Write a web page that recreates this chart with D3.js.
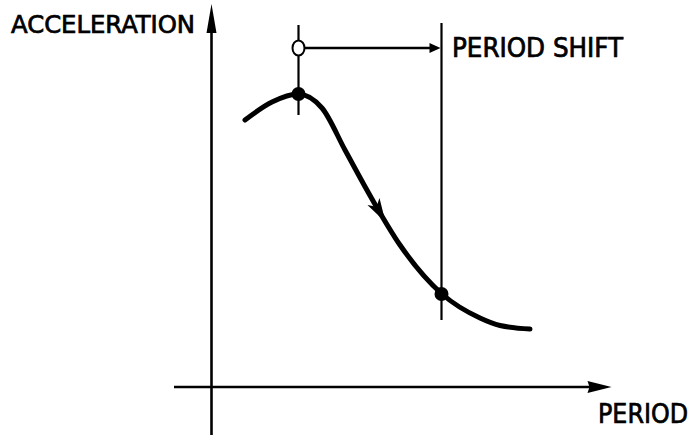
<!DOCTYPE html>
<html>
<head>
<meta charset="utf-8">
<script src="https://cdn.jsdelivr.net/npm/d3@7"></script>
<style>
  body { margin: 0; background: #fff; }
  svg text { font-family: "DejaVu Sans Condensed", "Liberation Sans Narrow", sans-serif; fill: #000; stroke: #000; stroke-width: 0.7px; }
</style>
</head>
<body>
<script>
// curve (period, acceleration in arbitrary units)
let periods = [0.335, 0.605, 0.865, 1.105, 1.335, 1.605, 1.885, 2.305, 2.685, 2.885, 3.185]
let accels  = [2.67, 2.85, 2.93, 2.79, 2.37, 1.88, 1.42, 0.93, 0.69, 0.615, 0.58]
let shiftFrom = 0.87   // period before shift
let shiftTo = 2.30     // period after shift
let markerY = [2.93, 0.93]
let arrowAt = 1.70     // where the direction arrow sits on the curve
let labels = ["ACCELERATION", "PERIOD SHIFT", "PERIOD"]

let W = 690, H = 437
let x = d3.scaleLinear().domain([0, 4]).range([211.5, 611.5])
let y = d3.scaleLinear().domain([0, 3]).range([387, 87])

let svg = d3.select("body").append("svg").attr("width", W).attr("height", H)

// axes
svg.append("line").attr("x1", x(-0.375)).attr("x2", x(3.8)).attr("y1", y(0)).attr("y2", y(0))
  .attr("stroke", "#000").attr("stroke-width", 2.6)
svg.append("path")
  .attr("d", `M${x(4)},${y(0)} L${x(3.76)},${y(0)-6} L${x(3.78)},${y(0)} L${x(3.76)},${y(0)+6} Z`)
  .attr("fill", "#000")
svg.append("line").attr("x1", x(0)).attr("x2", x(0)).attr("y1", y(-0.48)).attr("y2", y(3.6))
  .attr("stroke", "#000").attr("stroke-width", 2.6)
svg.append("path")
  .attr("d", `M${x(0)},${y(3.83)} L${x(0)-5},${y(3.54)} L${x(0)+5},${y(3.54)} Z`)
  .attr("fill", "#000")

// vertical marker lines
svg.append("line").attr("x1", x(shiftFrom)).attr("x2", x(shiftFrom)).attr("y1", y(3.62)).attr("y2", y(2.72))
  .attr("stroke", "#000").attr("stroke-width", 2.2)
svg.append("line").attr("x1", x(shiftTo)).attr("x2", x(shiftTo)).attr("y1", y(3.64)).attr("y2", y(0.67))
  .attr("stroke", "#000").attr("stroke-width", 2.2)

// shift arrow
let ay = y(3.39)
svg.append("line").attr("x1", x(shiftFrom) + 6).attr("x2", x(shiftTo) - 8).attr("y1", ay).attr("y2", ay)
  .attr("stroke", "#000").attr("stroke-width", 2.6)
svg.append("path")
  .attr("d", `M${x(shiftTo)-1},${ay} L${x(shiftTo)-12},${ay-5} L${x(shiftTo)-12},${ay+5} Z`)
  .attr("fill", "#000")
svg.append("ellipse").attr("cx", x(shiftFrom)).attr("cy", ay).attr("rx", 6).attr("ry", 7.5)
  .attr("fill", "#fff").attr("stroke", "#000").attr("stroke-width", 2)

// curve
let pts = periods.map((p, i) => [x(p), y(accels[i])])
let curve = svg.append("path")
  .attr("d", d3.line().curve(d3.curveMonotoneX)(pts))
  .attr("fill", "none").attr("stroke", "#000").attr("stroke-width", 5).attr("stroke-linecap", "round")

// direction arrow on the curve
let node = curve.node(), len = node.getTotalLength()
let lo = 0, hi = len
for (let k = 0; k < 40; k++) {
  let mid = (lo + hi) / 2
  if (node.getPointAtLength(mid).x < x(arrowAt)) lo = mid; else hi = mid
}
let tip = node.getPointAtLength(lo + 8), back = node.getPointAtLength(lo - 14)
let ang = Math.atan2(tip.y - back.y, tip.x - back.x) * 180 / Math.PI
svg.append("path")
  .attr("d", "M0,0 L-24,-7 L-18,0 L-24,7 Z")
  .attr("transform", `translate(${tip.x},${tip.y}) rotate(${ang})`)
  .attr("fill", "#000")

// points
svg.selectAll("circle.pt").data([shiftFrom, shiftTo]).join("circle").attr("class", "pt")
  .attr("cx", d => x(d)).attr("cy", (d, i) => y(markerY[i])).attr("r", 7).attr("fill", "#000")

// labels
svg.append("text").attr("x", 11).attr("y", 33).attr("font-size", 25)
  .attr("textLength", 184).attr("lengthAdjust", "spacingAndGlyphs").text(labels[0])
svg.append("text").attr("x", 452).attr("y", 57).attr("font-size", 26)
  .attr("textLength", 171).attr("lengthAdjust", "spacingAndGlyphs").text(labels[1])
svg.append("text").attr("x", 598).attr("y", 423).attr("font-size", 27)
  .attr("textLength", 90).attr("lengthAdjust", "spacingAndGlyphs").text(labels[2])
</script>
</body>
</html>
